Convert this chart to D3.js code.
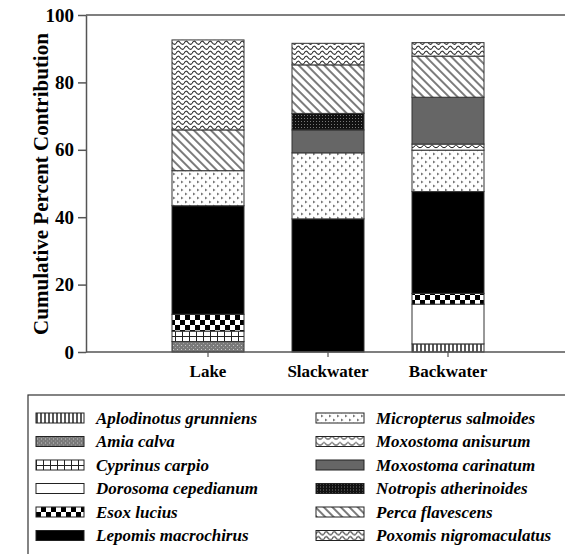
<!DOCTYPE html>
<html>
<head>
<meta charset="utf-8">
<script src="https://cdn.jsdelivr.net/npm/d3@7"></script>
<style>
  body { margin: 0; background: #fff; }
  svg { display: block; }
  text { font-family: "Liberation Serif", "Times New Roman", serif; font-weight: bold; fill: #000; }
</style>
</head>
<body>
<div id="chart"></div>
<script>
const sites = ["Lake", "Slackwater", "Backwater"];
const species = [
  "Aplodinotus grunniens", "Amia calva", "Cyprinus carpio", "Dorosoma cepedianum",
  "Esox lucius", "Lepomis macrochirus", "Micropterus salmoides", "Moxostoma anisurum",
  "Moxostoma carinatum", "Notropis atherinoides", "Perca flavescens", "Poxomis nigromaculatus"
];
// percent contribution per species, same order as species
const lake       = [0, 3.1, 3.1, 0, 5.0, 32.2, 10.4, 0, 0, 0, 12.1, 26.7];
const slackwater = [0, 0, 0, 0, 0, 39.5, 19.6, 0, 6.8, 4.9, 14.4, 6.4];
const backwater  = [2.4, 0, 0, 11.8, 3.2, 30.2, 12.3, 1.8, 13.9, 0, 12.2, 4.0];
const yTicks = [0, 20, 40, 60, 80, 100];

const width = 565, height = 554;
const margin = {left: 86, top: 15, right: 566, bottom: 352};

const rows = [lake, slackwater, backwater].map(function (vals, i) {
  const r = {site: sites[i]};
  species.forEach(function (s, j) { r[s] = vals[j]; });
  return r;
});

const svg = d3.select("#chart").append("svg")
  .attr("width", width)
  .attr("height", height);

// fill patterns, one per species
const defs = svg.append("defs");
function pat(id, w, h, attrs) {
  const p = defs.append("pattern").attr("id", id)
    .attr("patternUnits", "userSpaceOnUse").attr("width", w).attr("height", h);
  if (attrs) Object.keys(attrs).forEach(function (k) { p.attr(k, attrs[k]); });
  return p;
}
let p;
// vertical lines
p = pat("p0", 4, 4);
p.append("rect").attr("width", 4).attr("height", 4).attr("fill", "#fff");
p.append("line").attr("x1", 1).attr("x2", 1).attr("y1", 0).attr("y2", 4).attr("stroke", "#111").attr("stroke-width", 1.4);
// gray stipple
p = pat("p1", 4, 4);
p.append("rect").attr("width", 4).attr("height", 4).attr("fill", "#7a7a7a");
p.append("rect").attr("x", 1).attr("y", 1).attr("width", 1).attr("height", 1).attr("fill", "#c8c8c8");
p.append("rect").attr("x", 3).attr("y", 3).attr("width", 1).attr("height", 1).attr("fill", "#a0a0a0");
// grid
p = pat("p2", 7, 8);
p.append("rect").attr("width", 7).attr("height", 8).attr("fill", "#fff");
p.append("path").attr("d", "M0.5,0V8M0,0.5H7").attr("stroke", "#222").attr("stroke-width", 1);
// checker
p = pat("p4", 10, 10);
p.append("rect").attr("width", 10).attr("height", 10).attr("fill", "#fff");
p.append("rect").attr("width", 5).attr("height", 5).attr("fill", "#000");
p.append("rect").attr("x", 5).attr("y", 5).attr("width", 5).attr("height", 5).attr("fill", "#000");
// small gray arrowheads
p = pat("p6", 8, 8);
p.append("rect").attr("width", 8).attr("height", 8).attr("fill", "#fff");
p.append("path").attr("d", "M1,0.5L3.5,2L1,3.5ZM5,4.5L7.5,6L5,7.5Z").attr("fill", "#777");
// scallops
p = pat("p7", 8, 6);
p.append("rect").attr("width", 8).attr("height", 6).attr("fill", "#fff");
p.append("path").attr("d", "M0,0.5Q4,7 8,0.5").attr("stroke", "#222").attr("stroke-width", 1).attr("fill", "none");
// dark stipple
p = pat("p9", 3, 3);
p.append("rect").attr("width", 3).attr("height", 3).attr("fill", "#111");
p.append("rect").attr("x", 1).attr("y", 1).attr("width", 1).attr("height", 1).attr("fill", "#777");
// diagonal \\\
p = pat("p10", 6, 6, {patternTransform: "rotate(45)"});
p.append("rect").attr("width", 6).attr("height", 6).attr("fill", "#fff");
p.append("line").attr("x1", 0).attr("x2", 6).attr("y1", 3).attr("y2", 3).attr("stroke", "#111").attr("stroke-width", 1.1);
// zigzag waves
p = pat("p11", 8, 5);
p.append("rect").attr("width", 8).attr("height", 5).attr("fill", "#fff");
p.append("path").attr("d", "M0,3.5Q2,-0.5 4,2.5T8,3.5").attr("stroke", "#333").attr("stroke-width", 1.2).attr("fill", "none");

const fills = ["url(#p0)", "url(#p1)", "url(#p2)", "#fff", "url(#p4)", "#000",
  "url(#p6)", "url(#p7)", "#666", "url(#p9)", "url(#p10)", "url(#p11)"];

const x = d3.scaleBand().domain(sites).range([148, 508]).paddingInner(0.4).paddingOuter(0.2);
const y = d3.scaleLinear().domain([0, 100]).range([margin.bottom, margin.top]);

const stacked = d3.stack().keys(species)(rows);

// frame lines
svg.append("line")
  .attr("x1", margin.left).attr("x2", margin.right)
  .attr("y1", y(100)).attr("y2", y(100))
  .attr("stroke", "#555").attr("stroke-width", 1.5);

// bars
svg.selectAll(".layer")
  .data(stacked)
  .enter().append("g")
  .attr("class", "layer")
  .attr("fill", function (d, i) { return fills[i]; })
  .selectAll("rect")
  .data(function (d) { return d.filter(function (s) { return s[1] - s[0] > 0; }); })
  .enter().append("rect")
  .attr("x", function (d) { return x(d.data.site); })
  .attr("y", function (d) { return y(d[1]); })
  .attr("width", x.bandwidth())
  .attr("height", function (d) { return y(d[0]) - y(d[1]); })
  .attr("stroke", "#333")
  .attr("stroke-width", 1);

// y axis
const yAxis = d3.axisLeft(y).tickValues(yTicks).tickSize(8).tickPadding(4).tickSizeOuter(0);
const gy = svg.append("g").attr("transform", `translate(${margin.left},0)`).call(yAxis);
gy.selectAll("path, line").attr("stroke", "#555").attr("stroke-width", 1.5);
gy.selectAll("text").style("font-size", "19px").style("font-family", "Liberation Serif").style("font-weight", "bold");

// x axis
const xAxis = d3.axisBottom(x).tickSize(5).tickPadding(8).tickSizeOuter(0);
const gx = svg.append("g").attr("transform", `translate(0,${y(0)})`).call(xAxis);
gx.select(".domain").remove();
gx.selectAll("line").attr("stroke", "#555").attr("stroke-width", 1.2);
gx.selectAll("text").style("font-size", "17px").style("font-family", "Liberation Serif").style("font-weight", "bold");
svg.append("line")
  .attr("x1", margin.left).attr("x2", margin.right)
  .attr("y1", y(0)).attr("y2", y(0))
  .attr("stroke", "#555").attr("stroke-width", 1.5);

// y label
svg.append("text")
  .attr("transform", `translate(48,184) rotate(-90)`)
  .attr("text-anchor", "middle")
  .style("font-size", "21px")
  .text("Cumulative Percent Contribution");

// legend
const legend = svg.append("g");
legend.append("rect")
  .attr("x", 28).attr("y", 395)
  .attr("width", 560).attr("height", 200)
  .attr("fill", "none").attr("stroke", "#333").attr("stroke-width", 1.2);

const items = legend.selectAll(".item")
  .data(species)
  .enter().append("g")
  .attr("class", "item")
  .attr("transform", function (d, i) {
    const col = i < 6 ? 0 : 1;
    const row = i % 6;
    return `translate(${col === 0 ? 36 : 316},${418 + row * 23.5})`;
  });

items.append("rect")
  .attr("x", 0).attr("y", -5)
  .attr("width", 48).attr("height", 10)
  .attr("fill", function (d, i) { return fills[i]; })
  .attr("stroke", "#222").attr("stroke-width", 1);

items.append("text")
  .attr("x", 60).attr("dy", "0.35em")
  .style("font-size", "17px")
  .style("font-style", "italic")
  .text(function (d) { return d; });
</script>
</body>
</html>
